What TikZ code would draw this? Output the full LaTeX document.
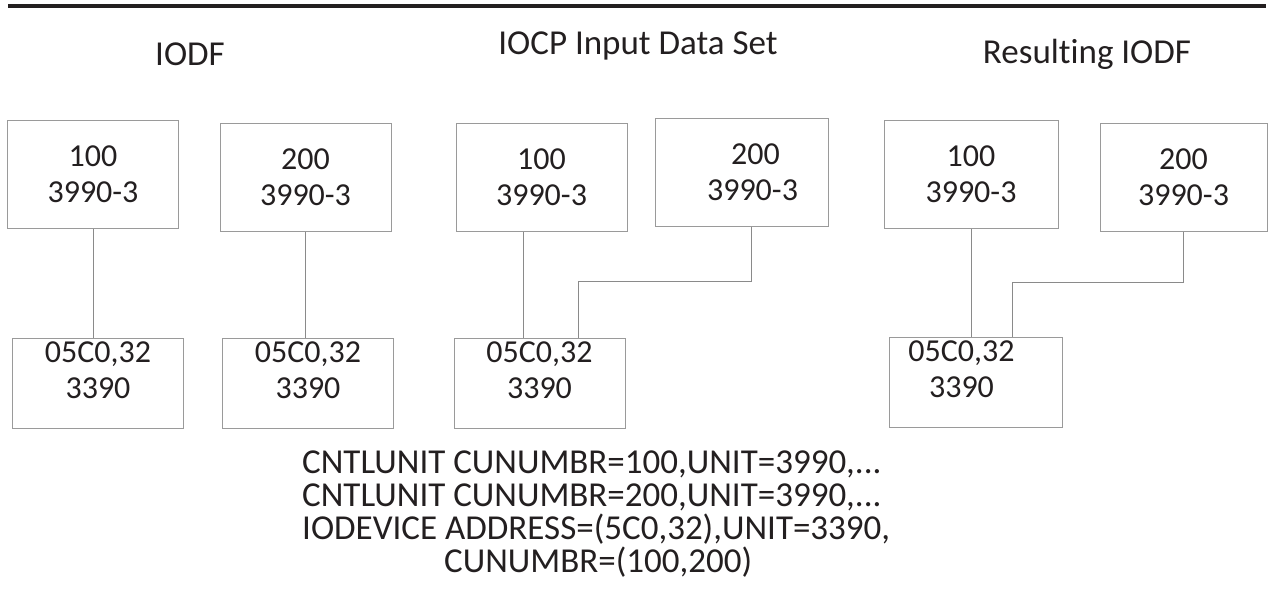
\documentclass[tikz,border=0pt]{standalone}
\usepackage{fontspec}
\setmainfont[Ligatures={NoCommon}]{Carlito}
\usepackage{xcolor}
\usepackage{tikz}
\usetikzlibrary{positioning}
\definecolor{boxgray}{HTML}{9A9A9A}
\definecolor{linkgray}{HTML}{8A8A8A}
\definecolor{inkblack}{HTML}{231F20}
\newcommand{\diagfont}{\fontsize{32}{36}\selectfont}
\newcommand{\headfont}{\fontsize{35}{36}\selectfont}
\tikzstyle{cubox} = [draw=boxgray, rectangle, line width=1pt, minimum width=171pt,
	minimum height=108pt, inner sep=0pt, align=center, text=inkblack, font=\diagfont]
\tikzstyle{devbox} = [cubox, minimum height=90pt, text depth=26pt]
\tikzstyle{link} = [draw=linkgray, line width=0.9pt]
\tikzstyle{title} = [text=inkblack, font=\headfont]

\begin{document}
\begin{tikzpicture}[x=1pt,y=-1pt]
		\useasboundingbox (0,0) rectangle (1273,605);
		\draw[line width=3.5pt, inkblack] (8,6) -- (1266,6);	% Linie oben
		
		% titles
		\node[title] (iodftitle) at (190,54) {IODF};
		\node[title] (iocptitle) at (638,46) {IOCP Input Data Set};
		\node[title] (restitle) at (1087,54) {Resulting IODF};
		
		% nodes
		\node[cubox] (iodfcua) at (93,174) {100\\3990-3};				% IODF, CU 100
		\node[cubox] (iodfcub) at (305.5,177.5) {200\\3990-3};			% IODF, CU 200
		\node[devbox] (iodfdeva) at (98,383) {05C0,32\\3390};
		\node[devbox] (iodfdevb) at (308,383.5) {05C0,32\\3390};
		
		\node[cubox] (iocpcua) at (541.5,177.5) {100\\3990-3};			% IOCP, CU 100
		\node[cubox,minimum width=173pt] (iocpcub) at (741.5,172) {\hspace*{28pt}200\\\hspace*{22pt}3990-3};
		\node[devbox] (iocpdev) at (539.5,383) {05C0,32\\3390};
		
		\node[cubox,minimum width=174pt] (rescua) at (971,174.5) {100\\3990-3};	% Ergebnis
		\node[cubox,minimum width=167pt] (rescub) at (1183.5,177) {200\\3990-3};
		\node[devbox,minimum width=173pt] (resdev) at (975.5,382.5) {05C0,32\hspace*{28pt}\\3390\hspace*{28pt}};
		
		% Knickpunkte
		\coordinate (iocpjoin) at ([xshift=-18.5pt]iocpcua.south);
		\coordinate (iocpbend) at (578,281);
		\coordinate (resbend) at (1012,282);
		
		% connectors
		\draw[link] (iodfcua.south) -- (iodfcua.south |- iodfdeva.north);
		\draw[link] (iodfcub.south) -- (iodfcub.south |- iodfdevb.north);
		\draw[link] (iocpjoin) -- (iocpjoin |- iocpdev.north);
		\draw[link] ([xshift=10pt]iocpcub.south) |- (iocpbend) -- (iocpbend |- iocpdev.north);
		\draw[link] (rescua.south) -- (rescua.south |- resdev.north);
		\draw[link] (rescub.south) |- (resbend) -- (resbend |- resdev.north);
		
		% IOCP statements
		\node[title, anchor=north west, align=left, inner sep=0pt,
			font=\fontsize{35}{33}\selectfont] (iocpstmt) at (302,451)
			{CNTLUNIT CUNUMBR=100,UNIT=3990,...\\
			 CNTLUNIT CUNUMBR=200,UNIT=3990,...\\
			 IODEVICE ADDRESS=(5C0,32),UNIT=3390,\\
			 \hspace*{142pt}CUNUMBR=(100,200)};
\end{tikzpicture}
\end{document}
